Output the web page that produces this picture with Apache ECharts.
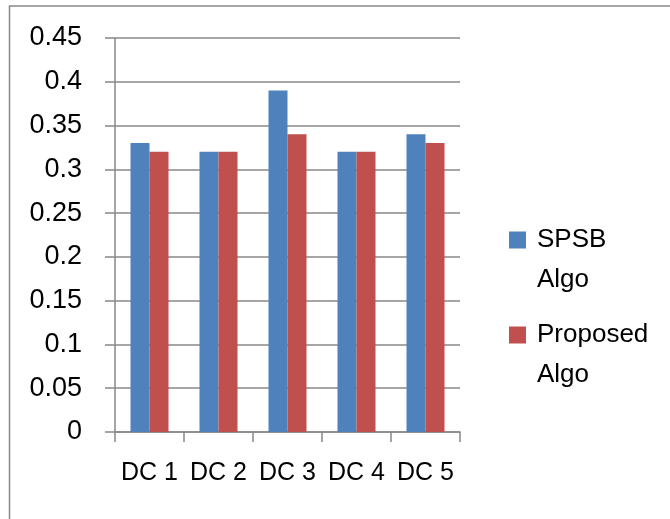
<!DOCTYPE html>
<html>
<head>
<meta charset="utf-8">
<script src="https://cdn.jsdelivr.net/npm/echarts@6/dist/echarts.min.js"></script>
<style>
html,body{margin:0;padding:0;background:#fff;}
#chart{width:670px;height:519px;}
</style>
</head>
<body>
<div id="chart"></div>
<script>
const categories = ['DC 1', 'DC 2', 'DC 3', 'DC 4', 'DC 5'];
const seriesNames = ['SPSB Algo', 'Proposed Algo'];
const spsbValues = [0.33, 0.32, 0.39, 0.32, 0.34];
const proposedValues = [0.32, 0.32, 0.34, 0.32, 0.33];
const yMin = 0, yMax = 0.45, yStep = 0.05;

const FONT = '"Liberation Sans", Arial, sans-serif';
const GRAY = '#888888';

const chart = echarts.init(document.getElementById('chart'), null, {renderer: 'canvas'});
chart.setOption({
  animation: false,
  backgroundColor: '#ffffff',
  graphic: [{
    type: 'rect',
    shape: {x: 9.5, y: 6, width: 700, height: 600},
    style: {fill: 'none', stroke: GRAY, lineWidth: 1.5},
    silent: true
  }],
  grid: {left: 115, right: 210, top: 38, bottom: 87, containLabel: false},
  legend: {
    orient: 'vertical',
    left: 509,
    top: 180,
    padding: 0,
    itemWidth: 17,
    itemHeight: 17,
    itemGap: -25,
    icon: 'rect',
    formatter: function (n) { return '\n' + n.replace(' ', '\n'); },
    textStyle: {fontFamily: FONT, fontSize: 26, color: '#000', lineHeight: 40, padding: [0, 0, 0, 6]},
    data: seriesNames
  },
  xAxis: {
    type: 'category',
    data: categories,
    axisLine: {show: true, lineStyle: {color: GRAY, width: 1.5}},
    axisTick: {show: true, length: 10, lineStyle: {color: GRAY, width: 1.5}},
    axisLabel: {fontFamily: FONT, fontSize: 25, color: '#000', margin: 29, interval: 0}
  },
  yAxis: {
    type: 'value',
    min: yMin, max: yMax, interval: yStep,
    axisLine: {show: true, lineStyle: {color: GRAY, width: 1.5}},
    axisTick: {show: true, length: 10, lineStyle: {color: GRAY, width: 1.5}},
    splitLine: {show: true, lineStyle: {color: GRAY, width: 1.5}},
    axisLabel: {fontFamily: FONT, fontSize: 27, color: '#000', margin: 33,
      formatter: function (v) { return String(+v.toFixed(2)); }}
  },
  series: [
    {name: seriesNames[0], type: 'bar', data: spsbValues, barWidth: 19, barGap: '0%',
     itemStyle: {color: '#4F81BD'}},
    {name: seriesNames[1], type: 'bar', data: proposedValues, barWidth: 19, barGap: '0%',
     itemStyle: {color: '#C0504D'}}
  ]
});
</script>
</body>
</html>
